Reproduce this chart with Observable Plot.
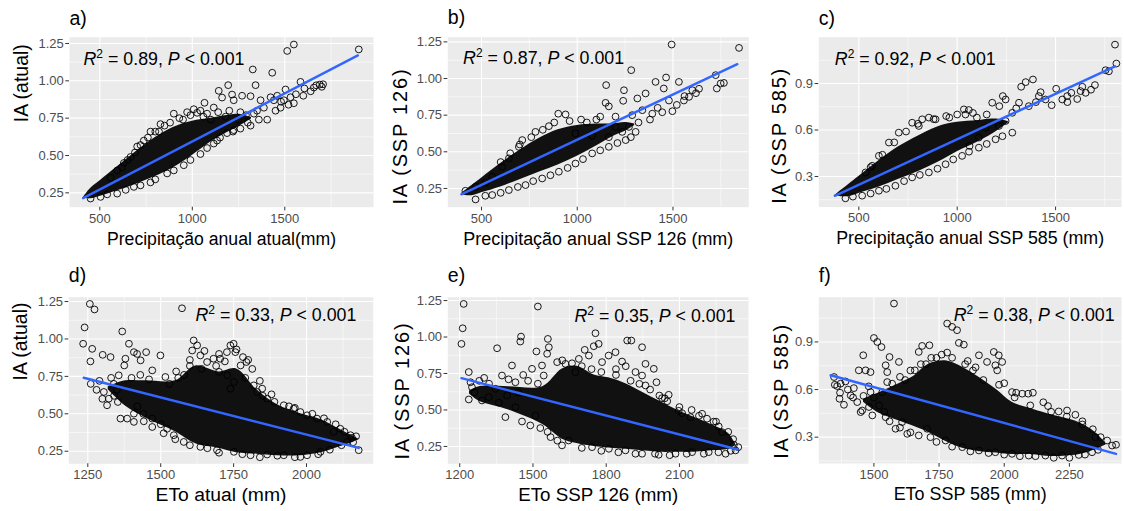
<!DOCTYPE html>
<html><head><meta charset="utf-8">
<script src="https://cdn.jsdelivr.net/npm/d3@7"></script>
<script src="https://cdn.jsdelivr.net/npm/@observablehq/plot@0.6"></script>
<style>
body{margin:0;background:#fff;}
#wrap{position:relative;width:1124px;height:511px;overflow:hidden;}
#wrap svg{position:absolute;overflow:visible;}
</style></head><body><div id="wrap"></div>
<script>
// ---------- DATA ----------
const letters = ["a)","b)","c)","d)","e)","f)"];
const xTitles = ["Precipitação anual atual(mm)","Precipitação anual SSP 126 (mm)","Precipitação anual SSP 585 (mm)","ETo atual (mm)","ETo SSP 126 (mm)","ETo SSP 585 (mm)"];
const yTitles = ["IA (atual)","IA (SSP 126)","IA (SSP 585)","IA (atual)","IA (SSP 126)","IA (SSP 585)"];
const r2Values = ["0.89","0.87","0.92","0.33","0.35","0.38"];
const labelX = [412, 404, 378, 1619, 1670, 1806];
const labelY = [1.103, 1.096, 1.022, 1.119, 1.102, 1.035];

const xTicksPrecip = [500,1000,1500];
const xMinorPrecip = [750,1250,1750];
const xTicksD = [1250,1500,1750,2000];
const xMinorD = [1375,1625,1875,2125];
const xTicksE = [1200,1500,1800,2100];
const xMinorE = [1350,1650,1950,2250];
const xTicksF = [1500,1750,2000,2250];
const xMinorF = [1375,1625,1875,2125,2375];
const yTicksIA = [0.25,0.50,0.75,1.00,1.25];
const yMinorIA = [0.375,0.625,0.875,1.125];
const yTicks585 = [0.3,0.6,0.9];
const yMinor585 = [0.15,0.45,0.75,1.05];

// regression line end points
const fitA = [[410,0.215],[1895,1.17]];
const fitB = [[395,0.21],[1836,1.098]];
const fitC = [[378,0.175],[1802,1.011]];
const fitD = [[1236,0.741],[2179,0.272]];
const fitE = [[1207,0.718],[2339,0.229]];
const fitF = [[1334,0.69],[2429,0.195]];

// dense core of each cloud: x, lower edge, upper edge
const bandAx = [410,450,500,600,700,800,900,1000,1100,1200,1260,1320];
const bandAlo = [0.212,0.21,0.225,0.265,0.31,0.36,0.42,0.50,0.59,0.66,0.70,0.745];
const bandAhi = [0.218,0.28,0.33,0.43,0.53,0.62,0.69,0.73,0.75,0.77,0.775,0.755];
const bandBx = [395,450,500,600,700,800,900,1000,1100,1180,1250,1300];
const bandBlo = [0.205,0.20,0.22,0.26,0.31,0.36,0.41,0.47,0.54,0.60,0.64,0.68];
const bandBhi = [0.215,0.27,0.32,0.42,0.51,0.59,0.65,0.68,0.69,0.69,0.70,0.69];
const bandCx = [378,450,500,600,700,800,900,1000,1100,1160,1210,1260];
const bandClo = [0.172,0.17,0.19,0.23,0.28,0.33,0.39,0.46,0.52,0.56,0.60,0.645];
const bandChi = [0.178,0.25,0.30,0.40,0.49,0.56,0.62,0.65,0.66,0.67,0.67,0.655];
const bandDx = [1320,1380,1450,1550,1620,1700,1760,1830,1900,1980,2050,2100,2160,2180];
const bandDlo = [0.66,0.55,0.47,0.38,0.30,0.27,0.24,0.23,0.22,0.22,0.24,0.27,0.31,0.33];
const bandDhi = [0.68,0.72,0.72,0.72,0.82,0.78,0.80,0.66,0.56,0.50,0.46,0.41,0.35,0.33];
const bandEx = [1240,1280,1400,1540,1620,1680,1750,1810,1880,1950,2020,2090,2160,2230,2300,2330];
const bandElo = [0.61,0.56,0.50,0.40,0.30,0.27,0.25,0.24,0.23,0.22,0.21,0.21,0.21,0.22,0.23,0.255];
const bandEhi = [0.63,0.66,0.66,0.66,0.78,0.80,0.74,0.72,0.68,0.62,0.56,0.50,0.45,0.40,0.34,0.265];
const bandFx = [1460,1520,1600,1650,1710,1780,1840,1900,1970,2030,2100,2160,2230,2290,2350,2390];
const bandFlo = [0.52,0.45,0.40,0.37,0.33,0.27,0.23,0.21,0.20,0.19,0.19,0.18,0.18,0.19,0.22,0.25];
const bandFhi = [0.54,0.58,0.64,0.68,0.76,0.78,0.74,0.68,0.60,0.52,0.48,0.45,0.42,0.39,0.33,0.26];

// individual circles (outliers and cloud edges)
const ptsA = [[1900,1.21],[1513,1.20],[1549,1.243],[1327,1.076],[1432,1.054],[1194,0.971],[1342,0.971],[1143,0.933],[1215,0.908],[1269,0.90],[1315,0.897],[1585,0.993],[1606,0.949],[1657,0.955],[1689,0.975],[1707,0.977],[1504,0.942],[1066,0.853],[1116,0.821],[1026,0.786],[1161,0.888],[1224,0.87],
[1260,0.79],[1333,0.78],[1387,0.82],[1441,0.87],[1495,0.87],[1531,0.89],[1477,0.82],[1549,0.85],[1405,0.74],[1315,0.70],[1224,0.67],[1134,0.60],[1369,0.87],[1423,0.89],[1459,0.90],
[900,0.78],[828,0.71],[774,0.66],[738,0.60],[702,0.56],[666,0.49],[630,0.45],[594,0.40],[558,0.35],[972,0.79],[1044,0.80],[1008,0.81],
[684,0.29],[774,0.32],[864,0.38],[954,0.435],[1044,0.51],[1116,0.58],[1188,0.65],[1260,0.68],[594,0.245],[504,0.223],[450,0.212],
[1180,0.76],[1250,0.74],[1290,0.77],[1350,0.80],[1200,0.80],[1100,0.74],[1060,0.76],[950,0.74],[880,0.72],[820,0.66],
[1600,0.90],[1640,0.93],[1560,0.91],[1670,0.97],[1700,0.96],[1520,0.84],[1480,0.86],[1450,0.80],
[620,0.42],[650,0.47],[690,0.52],[720,0.57],[760,0.62],[800,0.66],[850,0.70],[930,0.75],[990,0.77],[1080,0.78],[1140,0.79],
[540,0.24],[640,0.27],[720,0.30],[800,0.34],[900,0.40],[990,0.47],[1080,0.55],[1150,0.62],[1220,0.66],[1300,0.72],[1360,0.74]];
const ptsB = [[1845,1.209],[1493,1.232],[1282,1.057],[1151,0.955],[1244,0.92],[1409,0.977],[1464,1.007],[1452,0.932],[1531,0.977],[1723,1.023],[1729,0.932],[1766,0.97],[1749,0.966],[1240,0.848],[1357,0.898],[1314,0.864],[1148,0.834],[1165,0.81],[1479,0.85],[1497,0.777],
[1601,0.92],[1636,0.93],[1584,0.875],[1557,0.85],[1444,0.77],[1392,0.76],[1340,0.784],[1287,0.75],[1270,0.67],[1235,0.636],[1200,0.67],[1165,0.60],[1078,0.61],[991,0.625],[939,0.755],[852,0.675],[782,0.636],[713,0.58],[695,0.534],[643,0.455],[608,0.398],[556,0.33],[521,0.289],[469,0.261],[416,0.234],
[469,0.175],[556,0.205],[643,0.239],[730,0.273],[817,0.318],[904,0.364],[991,0.42],[1078,0.489],[1165,0.534],[1253,0.58],[1305,0.636],
[901,0.76],[1100,0.72],[1050,0.70],[1200,0.74],[1320,0.70],[1380,0.72],[1420,0.80],[1520,0.82],[1560,0.88],[1620,0.90],
[600,0.43],[650,0.49],[700,0.55],[760,0.60],[820,0.65],[880,0.70],[960,0.71],[1020,0.72],[1120,0.74],
[520,0.20],[600,0.22],[690,0.26],[770,0.30],[860,0.34],[950,0.39],[1030,0.45],[1120,0.51],[1210,0.56],[1280,0.60]];
const ptsC = [[1802,1.151],[1809,1.029],[1771,0.979],[1754,0.986],[1385,0.926],[1348,0.909],[1325,0.879],[1424,0.844],[1503,0.866],[1232,0.819],[1178,0.776],[1214,0.754],[1246,0.797],[944,0.69],[890,0.669],[1034,0.733],[1059,0.729],[1042,0.70],[1653,0.84],[1610,0.80],[1627,0.851],[1636,0.879],[1534,0.797],[1559,0.819],[1449,0.797],[1415,0.819],[1364,0.754],[1314,0.776],[1280,0.711],[1246,0.658],[1212,0.626],[1144,0.615],[1110,0.551],[1063,0.497],
[771,0.647],[703,0.583],[653,0.519],[602,0.433],[568,0.369],[534,0.326],[822,0.669],[856,0.68],[805,0.626],
[432,0.159],[517,0.176],[602,0.208],[686,0.24],[771,0.294],[856,0.326],[941,0.379],[1025,0.433],[1110,0.486],[1195,0.54],[1280,0.583],
[1150,0.70],[1100,0.68],[1300,0.74],[1400,0.78],[1480,0.76],[1580,0.84],[1700,0.89],[1680,0.86],[1560,0.78],
[560,0.36],[620,0.44],[680,0.52],[740,0.59],[800,0.64],[880,0.67],[960,0.68],[1000,0.70],[1080,0.71],
[470,0.17],[560,0.19],[640,0.22],[730,0.27],[810,0.31],[900,0.35],[980,0.41],[1060,0.46],[1150,0.51],[1230,0.56]];
const ptsD = [[1257,1.234],[1273,1.197],[1239,1.077],[1234,0.968],[1265,0.934],[1259,0.85],[1301,0.894],[1328,0.879],[1368,1.05],[1391,0.968],[1408,0.912],[1419,0.90],[1431,0.857],[1450,0.912],[1499,0.89],[1471,0.79],[1573,1.205],[1379,0.868],[1375,0.823],[1516,0.746],[1553,0.783],
[1316,0.557],[1322,0.601],[1305,0.646],[1362,0.468],[1385,0.468],[1353,0.579],[1408,0.501],[1408,0.446],[1442,0.45],[1471,0.412],[1471,0.468],[1339,0.70],[1356,0.757],
[1613,0.99],[1625,0.957],[1608,0.923],[1636,0.89],[1659,0.846],[1681,0.868],[1704,0.868],[1739,0.957],[1750,0.968],[1756,0.912],[1782,0.879],[1794,0.846],[1727,0.912],[1774,0.823],[1814,0.80],[1751,0.712],[1739,0.668],[1728,0.757],[1819,0.69],[1831,0.646],[1848,0.668],[1865,0.601],
[1922,0.557],[1956,0.534],[1979,0.512],[2002,0.49],[2036,0.468],[2071,0.446],[2116,0.40],[2151,0.357],[2156,0.339],[2179,0.257],[2093,0.379],[2139,0.312],
[1636,0.279],[1693,0.257],[1751,0.246],[1808,0.223],[1865,0.228],[1922,0.223],[1979,0.212],[2002,0.223],[2048,0.246],[1579,0.312],[1545,0.357],[1522,0.40],
[1600,0.82],[1640,0.80],[1690,0.82],[1580,0.76],[1530,0.70],[1700,0.78],[1790,0.74],[1850,0.62],[1890,0.58],[1940,0.55],
[1260,0.70],[1280,0.66],[1290,0.72],[1330,0.74],[1350,0.66],[1300,0.60],[1340,0.62],[1400,0.74],[1430,0.76],[1460,0.73],[1420,0.55],[1440,0.50],[1500,0.43],[1510,0.37],[1550,0.33],[1600,0.29],[1660,0.27],
[1560,0.74],[1600,0.86],[1650,0.92],[1700,0.90],[1720,0.85],[1760,0.93],[1800,0.86],[1840,0.72],[1880,0.63],[1960,0.54],[2020,0.50],[2060,0.47],[2100,0.43],[2130,0.38],[2170,0.35],
[1700,0.24],[1780,0.23],[1840,0.21],[1900,0.22],[1960,0.21],[2040,0.23],[2080,0.26],[2120,0.29],[2160,0.31]];
const ptsE = [[1216,1.227],[1212,1.06],[1207,0.953],[1520,1.209],[1451,1.003],[1448,0.969],[1353,0.923],[1514,0.901],[1558,0.885],[1565,0.93],[1561,0.987],[1756,1.026],[1712,0.912],[1749,0.937],[1769,0.953],[1886,0.976],[1903,0.976],[1947,0.93],[1961,0.816],[1865,0.832],[1838,0.896],[1810,0.873],[1995,0.782],[1947,0.736],[1961,0.668],[1936,0.679],[2006,0.69],[2018,0.599],[2029,0.581],[2056,0.604],[2097,0.494],[2111,0.478],[2145,0.451],[2193,0.474],[2213,0.44],[2261,0.387],[2275,0.348],[2323,0.261],[2330,0.223],[2341,0.245],
[1237,0.76],[1244,0.69],[1250,0.656],[1237,0.572],[1291,0.565],[1319,0.588],[1346,0.645],[1373,0.736],[1394,0.599],[1387,0.451],[1428,0.519],[1455,0.421],[1489,0.394],[1530,0.376],[1510,0.462],[1414,0.805],[1428,0.69],[1496,0.782],[1537,0.805],[1544,0.736],
[1572,0.314],[1619,0.257],[1646,0.291],[1599,0.828],[1633,0.816],[1674,0.759],[1688,0.85],[1729,0.873],[1783,0.828],
[1742,0.245],[1811,0.234],[1879,0.223],[1947,0.2],[2015,0.193],[2084,0.2],[2152,0.211],[2220,0.211],[2289,0.2],
[1880,0.80],[1920,0.76],[1840,0.78],[2050,0.56],[2150,0.50],[2250,0.42],[1300,0.72],[1460,0.74],
[1260,0.62],[1280,0.70],[1320,0.68],[1360,0.55],[1400,0.71],[1440,0.62],[1480,0.70],[1520,0.68],[1560,0.35],[1600,0.29],[1620,0.84],[1660,0.82],[1700,0.80],[1740,0.78],[1780,0.76],[1840,0.74],[1900,0.70],[1980,0.64],[2040,0.58],[2100,0.52],[2180,0.46],[2240,0.42],[2300,0.35],[2320,0.30],
[1700,0.24],[1780,0.22],[1850,0.21],[1920,0.20],[2000,0.20],[2060,0.19],[2130,0.20],[2200,0.20],[2260,0.21],[2310,0.22]];
const ptsF = [[1577,1.142],[1781,1.016],[1800,0.995],[1819,0.974],[1500,0.925],[1513,0.90],[1529,0.868],[1685,0.875],[1713,0.879],[1826,0.894],[1845,0.883],[1781,0.833],[1459,0.816],[1442,0.721],[1468,0.721],[1487,0.71],[1560,0.805],[1596,0.774],[1545,0.753],[1551,0.71],[1570,0.637],[1551,0.647],[1657,0.721],[1672,0.837],[1903,0.816],[1934,0.774],[1960,0.837],[1979,0.816],[1992,0.774],[1966,0.753],[1973,0.721],[2030,0.584],[2046,0.58],[2069,0.574],[2092,0.574],[2110,0.58],[2168,0.496],[2209,0.462],[2241,0.468],[2273,0.441],[2350,0.30],[2395,0.279],[2414,0.247],[2429,0.252],
[1347,0.679],[1359,0.622],[1372,0.637],[1391,0.651],[1368,0.542],[1385,0.504],[1411,0.563],[1423,0.609],[1436,0.521],[1455,0.468],[1449,0.458],[1481,0.49],[1494,0.437],[1545,0.426],[1532,0.584],[1487,0.584],[1583,0.353],[1608,0.395],[1628,0.321],[1672,0.311],[1717,0.30],[1704,0.353],
[1775,0.279],[1839,0.237],[1903,0.216],[1966,0.205],[2030,0.195],[2094,0.184],[2158,0.184],[2222,0.184],[2286,0.188],[2337,0.205],
[1740,0.80],[1860,0.78],[1890,0.74],[2000,0.64],[2150,0.52],[2300,0.38],[1620,0.66],[1700,0.76],
[1350,0.63],[1370,0.58],[1400,0.60],[1420,0.55],[1460,0.56],[1480,0.62],[1500,0.55],[1520,0.50],[1540,0.46],[1560,0.40],[1600,0.36],[1640,0.33],[1600,0.68],[1640,0.72],[1680,0.76],[1720,0.80],[1760,0.82],[1800,0.80],[1850,0.76],[1880,0.72],[1920,0.66],[1980,0.63],[2040,0.55],[2100,0.50],[2180,0.46],[2240,0.43],[2300,0.40],[2340,0.35],[2370,0.30],
[1740,0.27],[1800,0.24],[1870,0.21],[1940,0.20],[2000,0.19],[2060,0.18],[2120,0.18],[2190,0.17],[2250,0.17],[2310,0.19],[2360,0.22]];

// ---------- LAYOUT ----------
const FONT = "Liberation Sans, Arial, Helvetica, sans-serif";
const panels = [
  {left:0,   top:0,   w:375, h:255, ml:69,   mr:2,   mt:36.7, mb:48.3, xd:[336.2,1979.5], yd:[0.154,1.292], xt:xTicksPrecip, xm:xMinorPrecip, yt:yTicksIA,  ym:yMinorIA,  yfmt:2, pts:ptsA, bx:bandAx, blo:bandAlo, bhi:bandAhi, fit:fitA, letterDy:-12.7, yDx:-41.7, yStart:false, yDy:0,    xDy:37.3, xLen:229, yFs:19.5, yLs:0},
  {left:375, top:0,   w:375, h:255, ml:72.3, mr:1.7, mt:36.7, mb:48.3, xd:[324,1896],     yd:[0.122,1.282], xt:xTicksPrecip, xm:xMinorPrecip, yt:yTicksIA,  ym:yMinorIA,  yfmt:2, pts:ptsB, bx:bandBx, blo:bandBlo, bhi:bandBhi, fit:fitB, letterDy:-13.4, yDx:-40.6, yStart:true,  yDy:-2.7, xDy:37.3, xLen:270, yFs:20, yLs:1.8},
  {left:745, top:0,   w:379, h:255, ml:73.3, mr:3,   mt:36.7, mb:48.5, xd:[296.6,1835],   yd:[0.103,1.199], xt:xTicksPrecip, xm:xMinorPrecip, yt:yTicks585, ym:yMinor585, yfmt:1, pts:ptsC, bx:bandCx, blo:bandClo, bhi:bandChi, fit:fitC, letterDy:-12.7, yDx:-33,   yStart:true,  yDy:-3.2, xDy:37.3, xLen:268, yFs:20, yLs:1.8},
  {left:0,   top:255, w:375, h:256, ml:68.3, mr:2.3, mt:41.7, mb:47.7, xd:[1184.8,2228.7], yd:[0.166,1.279], xt:xTicksD, xm:xMinorD, yt:yTicksIA,  ym:yMinorIA,  yfmt:2, pts:ptsD, bx:bandDx, blo:bandDlo, bhi:bandDhi, fit:fitD, letterDy:-15, yDx:-42,   yStart:false, yDy:0,    xDy:36.7, xLen:131, yFs:19.5, yLs:0},
  {left:375, top:255, w:375, h:256, ml:72.3, mr:2,   mt:41.7, mb:47.7, xd:[1151,2383],    yd:[0.131,1.273], xt:xTicksE, xm:xMinorE, yt:yTicksIA,  ym:yMinorIA,  yfmt:2, pts:ptsE, bx:bandEx, blo:bandElo, bhi:bandEhi, fit:fitE, letterDy:-15.5, yDx:-39.3, yStart:true,  yDy:-4.3, xDy:36.7, xLen:160, yFs:20, yLs:1.9},
  {left:745, top:255, w:379, h:256, ml:73.3, mr:3,   mt:41.7, mb:48,   xd:[1288.5,2450],  yd:[0.134,1.182], xt:xTicksF, xm:xMinorF, yt:yTicks585, ym:yMinor585, yfmt:1, pts:ptsF, bx:bandFx, blo:bandFlo, bhi:bandFhi, fit:fitF, letterDy:-15, yDx:-30.6, yStart:true,  yDy:-4.7, xDy:36.7, xLen:153, yFs:20, yLs:1.7}
];

function fitText(svg, str, len) {
  for (const t of svg.querySelectorAll("text")) {
    if (t.textContent === str) {
      t.setAttribute("textLength", len);
      t.setAttribute("lengthAdjust", "spacingAndGlyphs");
    }
  }
}
function spaceText(svg, str, ls) {
  for (const t of svg.querySelectorAll("text")) {
    if (t.textContent === str && ls) t.setAttribute("letter-spacing", ls);
  }
}
function richLabel(svg, raw, r2) {
  const ns = "http://www.w3.org/2000/svg";
  for (const t of svg.querySelectorAll("text")) {
    if (t.textContent === raw) {
      t.textContent = "";
      const parts = [["R", {"font-style":"italic"}], ["2", {"font-size":"12px","dy":"-7"}], [" = " + r2 + ", ", {"dy":"7"}], ["P", {"font-style":"italic"}], [" < 0.001", {}]];
      for (const [s, attrs] of parts) {
        const ts = document.createElementNS(ns, "tspan");
        ts.textContent = s;
        for (const k in attrs) ts.setAttribute(k, attrs[k]);
        t.appendChild(ts);
      }
    }
  }
}

const wrap = document.getElementById("wrap");
panels.forEach((p, i) => {
  const band = p.bx.map((x, j) => ({x, lo: p.blo[j], hi: p.bhi[j]}));
  const fit = p.fit.map(([x, y]) => ({x, y}));
  const raw = "R2 = " + r2Values[i] + ", P < 0.001";
  const yTitleMark = p.yStart
    ? Plot.text([yTitles[i]], {frameAnchor: "bottom-left", dx: p.yDx, dy: p.yDy, rotate: -90, text: d => d, textAnchor: "start", lineAnchor: "bottom", fontSize: p.yFs, fill: "black"})
    : Plot.text([yTitles[i]], {frameAnchor: "left", dx: p.yDx, rotate: -90, text: d => d, lineAnchor: "bottom", fontSize: p.yFs, fill: "black"});
  const svg = Plot.plot({
    width: p.w, height: p.h,
    marginLeft: p.ml, marginRight: p.mr, marginTop: p.mt, marginBottom: p.mb,
    x: {domain: p.xd, axis: null},
    y: {domain: p.yd, axis: null},
    style: {fontFamily: FONT, fontSize: "13px", background: "transparent", color: "black"},
    marks: [
      Plot.frame({fill: "#EBEBEB", stroke: "none"}),
      Plot.gridX(p.xm, {stroke: "white", strokeOpacity: 1, strokeWidth: 0.55}),
      Plot.gridY(p.ym, {stroke: "white", strokeOpacity: 1, strokeWidth: 0.55}),
      Plot.gridX(p.xt, {stroke: "white", strokeOpacity: 1, strokeWidth: 1.1}),
      Plot.gridY(p.yt, {stroke: "white", strokeOpacity: 1, strokeWidth: 1.1}),
      Plot.areaY(band, {x: "x", y1: "lo", y2: "hi", fill: "#111", curve: "catmull-rom"}),
      Plot.dot(p.pts, {x: d => d[0], y: d => d[1], r: 3.4, stroke: "black", strokeWidth: 0.9, fill: "none"}),
      Plot.line(fit, {x: "x", y: "y", stroke: "#3366FF", strokeWidth: 2.4}),
      Plot.axisX(p.xt, {tickSize: 3.7, tickPadding: 2.5, fontSize: 13, stroke: "#333333", fill: "#4D4D4D", label: null, tickFormat: d => String(d)}),
      Plot.axisY(p.yt, {tickSize: 3.7, tickPadding: 2, fontSize: 13, stroke: "#333333", fill: "#4D4D4D", label: null, tickFormat: d => d.toFixed(p.yfmt)}),
      Plot.text([raw], {x: () => labelX[i], y: () => labelY[i], text: d => d, textAnchor: "start", lineAnchor: "bottom", fontSize: 17.8, fill: "black"}),
      Plot.text([letters[i]], {frameAnchor: "top-left", dy: p.letterDy, text: d => d, textAnchor: "start", lineAnchor: "bottom", fontSize: 19.5, fill: "black"}),
      Plot.text([xTitles[i]], {frameAnchor: "bottom", dy: p.xDy, text: d => d, lineAnchor: "bottom", fontSize: 18, fill: "black"}),
      yTitleMark
    ]
  });
  svg.style.left = p.left + "px";
  svg.style.top = p.top + "px";
  fitText(svg, xTitles[i], p.xLen);
  spaceText(svg, yTitles[i], p.yLs);
  richLabel(svg, raw, r2Values[i]);
  wrap.appendChild(svg);
});
</script></body></html>
